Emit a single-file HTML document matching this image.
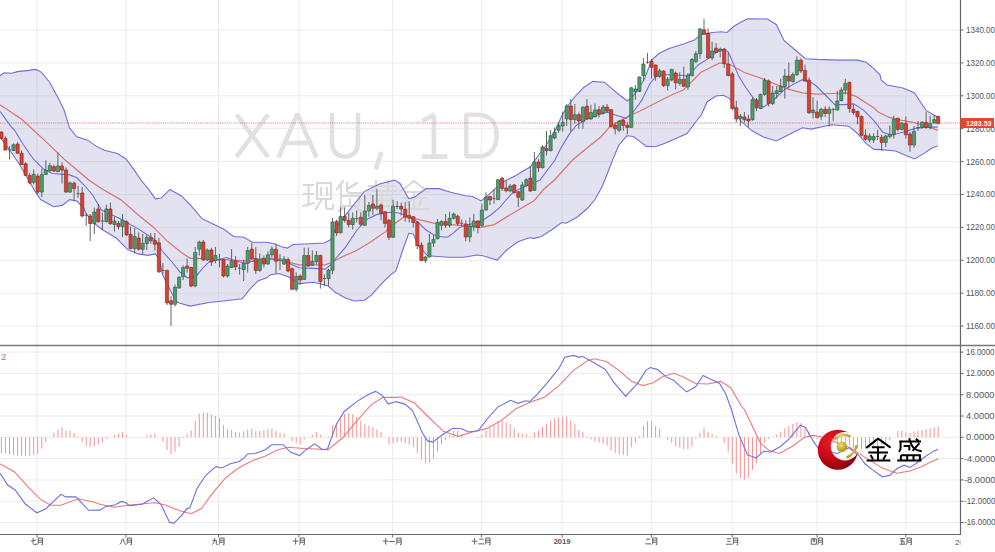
<!DOCTYPE html><html><head><meta charset="utf-8"><style>html,body{margin:0;padding:0;background:#fff;width:995px;height:552px;overflow:hidden}svg{display:block}text{font-family:"Liberation Sans",sans-serif}</style></head><body>
<svg width="995" height="552" viewBox="0 0 995 552">
<rect width="995" height="552" fill="#fff"/>
<path d="M0 30H960.5 M0 62.9H960.5 M0 95.8H960.5 M0 128.7H960.5 M0 161.6H960.5 M0 194.5H960.5 M0 227.4H960.5 M0 260.3H960.5 M0 293.2H960.5 M0 326.1H960.5 M0 352.1H960.5 M0 373.4H960.5 M0 394.7H960.5 M0 416H960.5 M0 437.3H960.5 M0 458.6H960.5 M0 479.9H960.5 M0 501.2H960.5 M0 522.5H960.5 M37 0V534 M126 0V534 M218.6 0V534 M298.9 0V534 M392.4 0V534 M481.3 0V534 M562.1 0V534 M651.4 0V534 M732.2 0V534 M817.1 0V534 M905.8 0V534" stroke="#ebebeb" stroke-width="1" fill="none"/>
<polygon points="0,76 1.4,74.5 4.3,72.8 11.6,73.3 17.4,71.6 29,70.4 35.5,69.4 40.6,71.6 49.3,81.7 58,97.7 63.8,109.3 67.4,120.9 69.6,128.1 76.8,136.8 87,140 88,140.4 95.7,145.9 104.3,150.2 117.4,153.5 126,159 134.8,170.9 140.9,180 148.1,188.7 155.4,198.8 161.2,198.1 169.9,189.4 181.4,195.9 190.1,204.6 201.7,218.4 210.4,222.8 224,229.3 233.6,236.5 243.8,237.2 252.5,242.3 267,242.3 274.2,243.8 281.4,246.7 287.2,248.1 293,244.5 310.4,243.8 324,243 330.3,240 336.3,227 349,210.6 364.2,191.6 379.5,184 394.7,180.1 400,183.5 408.7,198.7 414.5,197.2 426.1,188.6 439.1,188.6 450.7,192.2 465.2,195.8 472.5,196.5 481.2,200.9 489.9,193.6 501.4,182.8 515.9,175.5 530.4,166.8 539.1,154.5 544,148.7 555,130.7 562.3,114.8 569.6,103.2 576.8,94.5 584,87.2 592.8,81.4 604.3,82.2 610.1,87.2 618.8,94.5 627.5,101 633.3,96 639.1,87.2 644,80 651.6,60 658.8,53.5 669,48.4 683.5,44 695,39.7 700.9,34.6 712.5,32.5 721.2,31.7 727,32.5 734.2,26 747.2,18.7 767.5,19 776.2,24.5 784,40.4 795.2,50 805.4,58.7 817,59.4 838.7,60.1 857.5,60.1 866.2,62.3 874,68.8 880,74.8 881.2,80 887,85.1 903,88 914.6,93 920.3,101.7 926.1,110.4 932,114 937.7,117 938.7,117.2 937.7,146 932,148.1 923.2,153.9 914.6,159 905.9,155.4 895.7,151 881.2,149.6 874,149.4 866.2,143.6 857.5,133.5 848.8,126.2 831.4,124.8 811.2,129.1 802.5,127.7 788,134.9 776.4,141 763.3,137.1 751.7,130.6 740.1,120.4 731.9,101.7 729,98.1 723.2,95.2 716,96 707.2,101.7 701.4,114.8 695.7,122 687,133.6 675.4,138.7 663.8,143.8 655.1,146.7 646.4,146.4 639.1,140.9 633.3,136.5 626.8,135.8 618.8,145.2 616.8,150 612.5,160.1 608.1,171.7 602.3,186.2 595.1,199.3 587.8,208 577.7,216.7 566.1,223.2 561.7,222.5 551.6,230 550.1,230.7 541.4,236.5 534,238.4 529.1,237.7 517.5,242 505.9,250.7 497.2,260.1 482.8,255.8 477,255 463.9,257.2 448,257.2 427.7,255.8 419,246.4 413.2,234 408.8,233.3 403,249.3 395.8,271 390,275.4 381.6,283.6 371.4,295.2 364.2,300.3 354,301 345.4,298.1 335.2,292.3 328,285.8 313.5,282.2 299,283.6 288.8,277.1 278.7,273.5 270,274.9 267,277.8 258.3,280.7 249.6,289.4 242.3,298.8 223.5,301 209,302.5 190.1,306.1 180,303.2 176.3,301.6 170.9,291.6 162.3,274 159.7,260 155.4,253.9 148.1,255.4 138,253.9 127.8,249.6 116.2,238 101.7,229.3 94.5,223.5 85.8,213.3 84,208.3 76.8,201 69.6,199.6 62.3,205.4 53.6,206.8 40.6,199.6 34.8,190.9 29,180.7 18.8,163.3 8.7,148.8 0,137" fill="rgb(170,170,215)" fill-opacity="0.34"/>
<path d="M236.5 114.5 L268 156.8 M268 114.5 L236.5 156.8 M278.5 157.5 L297.4 114 L316.5 157.5 M285 143 H310 M332 112.8 V141 C332 152 337 156.5 345 156.5 C353 156.5 358 152 358 141 V112.8 M381.5 152 L375.5 169.5 M433.9 114.5 V156.6 M434.5 114.5 L422.5 121 M421.8 156.6 H447.5 M466.2 114.8 V156.3 H477.5 C491.5 156.3 496.6 147 496.6 135.5 C496.6 124 491.5 114.8 477.5 114.8 Z" stroke="#e1e1e1" stroke-width="4.6" stroke-linejoin="bevel" fill="none"/>
<g id="wm" stroke="#d9d9d9" stroke-width="2.2" fill="none" stroke-linecap="square"><path transform="translate(303,181)" d="M1 4H10M1 13H10M0 25L11 22M5.5 4V24 M14 2H28V18H14Z M18 7V14 M24 7V14 M19 18L13 28 M23 18V26Q23 28 26 28H30V24"/><path transform="translate(335,181)" d="M8 0L2 8M6 5V14 M12 2V9Q12 12 16 12H26 M22 2L14 7 M6 15H24V25H6Z M15 18V24 M11 25L4 30 M19 25L26 30"/><path transform="translate(367,181)" d="M2 5H28M9 0V9M21 0V9M1 10H29 M5 14H25V25H5Z M5 19.5H25 M15 10V25 M10 26L4 30 M20 26L27 30"/><path transform="translate(399,181) scale(1,1)" d="M15 0L1 11M15 0L29 11 M7 11H23 M4 17H26 M15 11V28 M8 20L10 25 M22 20L20 25 M1 28H29"/></g>
<line x1="0" y1="123" x2="960.5" y2="123" stroke="#e28080" stroke-width="1" stroke-dasharray="1.2,1"/>
<polyline points="0,76 1.4,74.5 4.3,72.8 11.6,73.3 17.4,71.6 29,70.4 35.5,69.4 40.6,71.6 49.3,81.7 58,97.7 63.8,109.3 67.4,120.9 69.6,128.1 76.8,136.8 87,140 88,140.4 95.7,145.9 104.3,150.2 117.4,153.5 126,159 134.8,170.9 140.9,180 148.1,188.7 155.4,198.8 161.2,198.1 169.9,189.4 181.4,195.9 190.1,204.6 201.7,218.4 210.4,222.8 224,229.3 233.6,236.5 243.8,237.2 252.5,242.3 267,242.3 274.2,243.8 281.4,246.7 287.2,248.1 293,244.5 310.4,243.8 324,243 330.3,240 336.3,227 349,210.6 364.2,191.6 379.5,184 394.7,180.1 400,183.5 408.7,198.7 414.5,197.2 426.1,188.6 439.1,188.6 450.7,192.2 465.2,195.8 472.5,196.5 481.2,200.9 489.9,193.6 501.4,182.8 515.9,175.5 530.4,166.8 539.1,154.5 544,148.7 555,130.7 562.3,114.8 569.6,103.2 576.8,94.5 584,87.2 592.8,81.4 604.3,82.2 610.1,87.2 618.8,94.5 627.5,101 633.3,96 639.1,87.2 644,80 651.6,60 658.8,53.5 669,48.4 683.5,44 695,39.7 700.9,34.6 712.5,32.5 721.2,31.7 727,32.5 734.2,26 747.2,18.7 767.5,19 776.2,24.5 784,40.4 795.2,50 805.4,58.7 817,59.4 838.7,60.1 857.5,60.1 866.2,62.3 874,68.8 880,74.8 881.2,80 887,85.1 903,88 914.6,93 920.3,101.7 926.1,110.4 932,114 937.7,117 938.7,117.2" fill="none" stroke="#6f6fdc" stroke-width="1.1"/>
<polyline points="0,137 8.7,148.8 18.8,163.3 29,180.7 34.8,190.9 40.6,199.6 53.6,206.8 62.3,205.4 69.6,199.6 76.8,201 84,208.3 85.8,213.3 94.5,223.5 101.7,229.3 116.2,238 127.8,249.6 138,253.9 148.1,255.4 155.4,253.9 159.7,260 162.3,274 170.9,291.6 176.3,301.6 180,303.2 190.1,306.1 209,302.5 223.5,301 242.3,298.8 249.6,289.4 258.3,280.7 267,277.8 270,274.9 278.7,273.5 288.8,277.1 299,283.6 313.5,282.2 328,285.8 335.2,292.3 345.4,298.1 354,301 364.2,300.3 371.4,295.2 381.6,283.6 390,275.4 395.8,271 403,249.3 408.8,233.3 413.2,234 419,246.4 427.7,255.8 448,257.2 463.9,257.2 477,255 482.8,255.8 497.2,260.1 505.9,250.7 517.5,242 529.1,237.7 534,238.4 541.4,236.5 550.1,230.7 551.6,230 561.7,222.5 566.1,223.2 577.7,216.7 587.8,208 595.1,199.3 602.3,186.2 608.1,171.7 612.5,160.1 616.8,150 618.8,145.2 626.8,135.8 633.3,136.5 639.1,140.9 646.4,146.4 655.1,146.7 663.8,143.8 675.4,138.7 687,133.6 695.7,122 701.4,114.8 707.2,101.7 716,96 723.2,95.2 729,98.1 731.9,101.7 740.1,120.4 751.7,130.6 763.3,137.1 776.4,141 788,134.9 802.5,127.7 811.2,129.1 831.4,124.8 848.8,126.2 857.5,133.5 866.2,143.6 874,149.4 881.2,149.6 895.7,151 905.9,155.4 914.6,159 923.2,153.9 932,148.1 937.7,146" fill="none" stroke="#6f6fdc" stroke-width="1.1"/>
<polyline points="0,104.7 21.7,119.3 43.5,139.4 65.2,160.1 87,178.5 88.7,180 101.7,188.7 120.6,199.6 138,214.8 152.5,226.4 167,240.9 181.4,252.5 190.1,258.3 196,258.3 209,259 223.5,259.7 238,260.4 252.5,261.2 267,261.9 270,258.3 284.5,261.2 299,264.8 313.5,264.8 325.1,264.8 330.9,262.6 342.5,256.8 357,250.3 371.4,241.6 385.9,231.4 390,226.8 404.5,216.7 416.1,218.8 433.5,223.2 450.9,224.6 462.5,225.4 479.9,227.5 494.3,224.6 505.9,217.4 520.4,208.7 534,200.7 544.3,188.7 554.5,180 572.5,160 587,148.1 601.4,136.5 610.1,126.4 620.3,120.6 630.4,115.5 644,109 658,101.7 672.5,94.5 683.5,90 700.9,72.3 709.6,68 719.7,62.9 730,64.5 744.5,72.5 759,77.5 773.5,83.3 788,89.1 802.5,92.8 817,94.2 831.4,93.5 846,92.8 856.1,96.4 874,108 877.8,111.7 888.7,117.2 901.7,120.4 914.8,122.6 927.8,127 937.6,130.2" fill="none" stroke="#d97575" stroke-width="1.25"/>
<polyline points="0,111.2 10.9,126.4 14.5,130 23.2,144.5 33.3,159 43.5,169.1 52.2,173.5 69.6,174.9 76.8,177.8 84,185 92.8,195.2 101.4,210 119.2,218.2 139.5,229.6 154.7,239.7 162.3,251 172.4,262.5 180,272 187.2,277.8 196,276.4 203.2,267.7 209,261.9 217.7,259.7 226.4,257.5 236.5,261.2 245.2,263.3 252.5,261.2 261.2,259 270,259 284.5,261.2 299,267.7 313.5,268.4 325.1,269.1 330.9,264.8 335.2,259 345.4,247.4 357,230 366.8,219.4 377,214.4 390,212.3 398.7,213 407.4,216 417.5,221.7 424.8,229 433.5,234.8 442.2,237 448,237 453.8,232.6 459.6,227.5 465.4,225.4 474,223.2 482.8,220.3 491.4,214.5 500.1,207.2 505.9,200 513.9,191.6 527,185.8 540,180 555,160 560.9,148.1 569.6,133.6 576.8,124.9 587,119.1 598.6,114.8 607.2,111.9 614.5,114.8 626.1,118.4 632.8,112.5 641.4,100.9 650.1,83.5 656,76.2 663.2,74.8 670.4,74.8 684,75.5 687.8,76.7 698,65 708.1,58.6 716.8,52 724,49.1 728.4,52 730,55.8 738.7,76.1 745.9,87.7 753.2,97.8 763.3,107.2 773.5,100 785,89.1 795.2,83.3 802.5,79.7 811.2,82.6 816,85.8 824.7,94.5 834.8,104.6 845,104.6 853.7,103.9 863.8,110.4 874,120.6 882.7,132.2 891.4,135 903,132.2 914.6,128.6 926.1,127.1 937.7,127.1" fill="none" stroke="#6f6fdc" stroke-width="1.1"/>
<path d="M1.4 131.4V139.1 M5.4 136.3V150.4 M9.5 146.2V159.6 M7.9 149.9h3.2 M13.5 143.4V151.1 M17.6 142V154 M21.6 150.4V165.3 M25.6 162.4V175.8 M29.7 173V184.3 M33.7 169.5V184.3 M37.7 173.7V194.2 M41.8 168.8V197 M45.8 160.3V175.1 M49.9 162.9V171.6 M53.9 164.5V172.3 M57.9 152.5V172.3 M62 162.4V183.6 M66 167.4V192.8 M70 181.5V192.8 M74.1 181.5V201.3 M78.1 185.7V197.9 M76.5 193.7h3.2 M82.2 187V217.4 M86.2 213V226 M84.6 215.3h3.2 M90.2 214V241 M94.3 207.5V234 M98.3 204V222.4 M102.4 212.5V230 M100.8 221h3.2 M106.4 204.7V222.4 M110.4 202.6V224.5 M114.5 216.7V231.5 M118.5 221V229.4 M122.5 214V237.2 M126.6 220.3V235.8 M130.6 226.6V249.2 M134.7 228V253.4 M138.7 232.3V250.6 M142.7 233.7V254 M146.8 234.4V250 M150.8 233V243.6 M154.8 233V250.6 M158.9 237.9V273 M162.9 263V274 M161.3 270.5h3.2 M167 269.7V305 M171 295.8V326 M175 284.5V306.4 M179.1 276V288.7 M183.1 265.4V280 M187.1 258.4V272.5 M191.2 266.8V287.3 M195.2 247V287.3 M199.3 240.7V255.5 M203.3 240V261 M207.3 248.5V261 M211.4 247.8V266 M215.4 247V263.3 M219.5 254V267.5 M217.9 259.8h3.2 M223.5 259V277.4 M227.5 264V277.4 M231.6 249V268.2 M235.6 256V270.4 M239.6 264V274.6 M238 268.2h3.2 M243.7 259.8V281 M247.7 247V272.5 M251.8 242.8V259.8 M255.8 247V274 M259.8 253.4V271.8 M263.9 255.5V267.5 M267.9 251.3V264.7 M271.9 246.4V257.7 M276 243.5V274 M280 254V270 M278.4 259h3.2 M284.1 256V265 M288.1 257.5V272.3 M292.1 267.4V290 M296.2 272.3V291.4 M300.2 274.4V285 M304.2 247.6V280 M308.3 247.6V266.7 M312.3 250.4V266 M316.4 251V264.5 M320.4 254.7V288.6 M324.4 274.4V286.4 M322.8 278.5h3.2 M328.5 268.8V285.7 M332.5 218V274.4 M336.6 219.6V236 M340.6 207V233.7 M344.6 207.6V222.4 M348.7 212.5V227.4 M352.7 212.5V229.5 M356.7 210.4V222.4 M355.1 218.6h3.2 M360.8 212.5V226 M364.8 195V226 M368.9 202V216.8 M372.9 195V214.7 M376.9 189.2V210.4 M381 203.4V220.3 M385 211V227.4 M389 219V240 M393.1 199.8V238 M397.1 201.2V209 M395.5 206.5h3.2 M401.2 202.7V215.4 M405.2 202V221.7 M409.2 201.2V222.4 M413.3 216V227.4 M417.3 221V249.3 M421.4 242.2V261.3 M425.4 255.6V263 M429.4 233.7V257.7 M433.5 235V247 M437.5 219V239.4 M441.5 220.3V230.2 M445.6 214V228 M449.6 211.8V227.4 M453.7 212.5V219.5 M457.7 214.7V226.2 M461.7 219.6V226.1 M460.1 223.2h3.2 M465.8 220.3V241.3 M469.8 217.4V242 M473.8 213.8V231.2 M477.9 220.3V233.3 M481.9 203.7V227 M486 192.4V210.7 M490 196V205 M494 189.5V203.7 M492.4 198.7h3.2 M498.1 179V200 M502.1 176.8V191 M506.2 180.4V192.4 M510.2 184V192.4 M514.2 184V193.8 M518.3 191V207.2 M522.3 181.8V200.8 M526.3 178.2V186.7 M530.4 166.2V191.7 M534.4 152V191 M538.5 159.2V172 M542.5 145V168.4 M546.5 131V155.6 M550.6 130V151.4 M554.6 127.4V139.4 M558.6 122.4V133 M562.7 111.8V131.6 M566.7 104V126 M570.8 99V131.6 M574.8 104V123.8 M578.8 112.5V128.8 M582.9 106V128.8 M586.9 99V119.6 M590.9 104.8V119.6 M595 103.4V117.5 M599 106.2V117.5 M603.1 104.8V114.6 M607.1 104V113.2 M611.1 109V127.4 M615.2 122.4V134.4 M619.2 120.3V132.3 M623.3 118.9V130.9 M627.3 121.7V134.4 M631.3 87.1V128.1 M635.4 85V99.8 M639.4 76.4V92 M643.4 58V80.7 M647.5 53V63.7 M645.9 62.3h3.2 M651.5 58.8V78.6 M655.6 64.4V80.7 M659.6 68.7V77.8 M663.6 70V87 M667.7 77V90.6 M671.7 68.7V81.4 M675.7 71.5V89.2 M679.8 72.2V85.6 M683.8 66.6V87 M687.9 73V89.9 M691.9 58V76.4 M695.9 51V63 M700 27.7V58.8 M704 19.2V34.8 M708.1 28.4V58.8 M712.1 41.8V60.2 M716.1 43.2V53 M720.2 47.5V57.4 M724.2 48.2V68 M728.2 52.4V76.4 M732.3 71.8V110 M736.3 100.7V122.6 M740.4 114V126 M744.4 112V122.6 M748.4 114.8V126.9 M752.5 97.2V120.5 M756.5 98V111.3 M760.5 93.7V109.2 M764.6 78V95.8 M768.6 79.5V106.4 M772.7 86V105 M776.7 86V98.6 M780.7 78.8V92.3 M784.8 69V98.6 M788.8 62.6V88.7 M792.8 72.5V82.4 M796.9 56.2V76 M800.9 58.4V73.2 M805 64.7V81.7 M809 77.4V114 M813 97.2V118.4 M817.1 100.7V118.4 M821.1 107.8V119.8 M825.2 106.4V117 M829.2 106.4V126.9 M833.2 107.8V121.2 M831.6 109.6h3.2 M837.3 90.8V110.6 M841.3 87.3V101.4 M845.3 78.8V94.4 M849.4 81.7V112.7 M853.4 104.3V114.8 M857.5 110.5V124.2 M861.5 115.7V136.6 M865.5 129.4V140.5 M869.6 133.4V142.5 M873.6 133.4V143 M877.6 130V140 M876 136.6h3.2 M881.7 134.7V151 M885.7 134.7V147 M889.8 125.5V138.6 M893.8 115.7V138.6 M897.8 117.7V131.4 M901.9 122V130.5 M905.9 116.4V138.6 M910 132V151.7 M914 126V147.7 M918 121V130.8 M916.4 127.5h3.2 M922.1 121V128.5 M926.1 111.8V128.8 M930.1 115.7V129.4 M934.2 115V123.6 M938.2 115.7V124.2" stroke="#555" stroke-width="0.9" fill="none"/>
<path d="M-0.2 132.1h3.2v6.3h-3.2z M3.8 138.4h3.2v11.7h-3.2z M16 144.1h3.2v9.1h-3.2z M20 153.2h3.2v11.3h-3.2z M24 163.8h3.2v11.6h-3.2z M28.1 175.4h3.2v7.5h-3.2z M36.1 176.1h3.2v16h-3.2z M52.3 166.7h3.2v4.2h-3.2z M60.4 166h3.2v4.2h-3.2z M64.4 169.9h3.2v22.2h-3.2z M72.5 183.2h3.2v5.4h-3.2z M80.6 193h3.2v23h-3.2z M88.6 216h3.2v7.5h-3.2z M96.7 209h3.2v12.7h-3.2z M108.8 209h3.2v14.8h-3.2z M116.9 223.5h3.2v3.1h-3.2z M125 221.7h3.2v13.3h-3.2z M129 234.4h3.2v14.1h-3.2z M137.1 238h3.2v11.2h-3.2z M149.2 237.6h3.2v3.1h-3.2z M153.2 240.5h3.2v3.8h-3.2z M157.3 242.8h3.2v29h-3.2z M165.4 270.4h3.2v32.4h-3.2z M169.4 300.7h3.2v3.6h-3.2z M185.5 266h3.2v2.2h-3.2z M189.6 267.5h3.2v18.5h-3.2z M201.7 242h3.2v17.8h-3.2z M209.8 250h3.2v12h-3.2z M221.9 259.8h3.2v16.2h-3.2z M234 261h3.2v5.8h-3.2z M250.2 249.2h3.2v9.8h-3.2z M254.2 258.4h3.2v12h-3.2z M262.3 258.4h3.2v5.6h-3.2z M274.4 249.2h3.2v12h-3.2z M286.5 259.6h3.2v11.4h-3.2z M290.5 268.8h3.2v20.5h-3.2z M298.6 276h3.2v4h-3.2z M306.7 255.4h3.2v10.6h-3.2z M318.8 255.4h3.2v26.1h-3.2z M335 221.4h3.2v11.6h-3.2z M343 216.4h3.2v3.9h-3.2z M347.1 220.3h3.2v4.2h-3.2z M359.2 217.2h3.2v7.1h-3.2z M371.3 204h3.2v4.3h-3.2z M379.4 205h3.2v8.2h-3.2z M383.4 211.8h3.2v11.6h-3.2z M387.4 220.3h3.2v17h-3.2z M399.6 206.2h3.2v2.8h-3.2z M403.6 209.3h3.2v7.5h-3.2z M407.6 215.4h3.2v2.8h-3.2z M411.7 216.8h3.2v5.6h-3.2z M415.7 222.4h3.2v23.3h-3.2z M419.8 245h3.2v15.6h-3.2z M444 221.4h3.2v3.9h-3.2z M456.1 216.2h3.2v7.2h-3.2z M464.2 224h3.2v13h-3.2z M476.3 221h3.2v6.5h-3.2z M488.4 196.6h3.2v3.4h-3.2z M500.5 178.2h3.2v10.2h-3.2z M504.6 187.9h3.2v2.8h-3.2z M512.6 185h3.2v7.4h-3.2z M516.7 191.7h3.2v5.6h-3.2z M528.8 178.2h3.2v12.8h-3.2z M536.9 162h3.2v5.7h-3.2z M544.9 148.6h3.2v2.1h-3.2z M569.2 106h3.2v13.6h-3.2z M577.2 114.7h3.2v6.3h-3.2z M585.3 106.2h3.2v12.8h-3.2z M597.4 109.7h3.2v4.3h-3.2z M605.5 107h3.2v4.1h-3.2z M609.5 109.7h3.2v17h-3.2z M613.6 125.3h3.2v3.5h-3.2z M621.7 120.3h3.2v5h-3.2z M625.7 125.3h3.2v2.1h-3.2z M649.9 61h3.2v6.3h-3.2z M654 65h3.2v11.4h-3.2z M662 71.2h3.2v14.4h-3.2z M674.1 73h3.2v9.8h-3.2z M682.2 79.3h3.2v7h-3.2z M702.4 29.8h3.2v4.2h-3.2z M706.5 33.4h3.2v24.6h-3.2z M714.5 48.2h3.2v4.2h-3.2z M722.6 49h3.2v14.7h-3.2z M726.6 64.2h3.2v11.3h-3.2z M730.7 73.9h3.2v34.6h-3.2z M734.7 107.8h3.2v11.2h-3.2z M742.8 117h3.2v2.8h-3.2z M746.8 119h3.2v2h-3.2z M754.9 100h3.2v7.8h-3.2z M767 81h3.2v22.6h-3.2z M787.2 76h3.2v5h-3.2z M799.3 60.2h3.2v10.8h-3.2z M803.4 70.4h3.2v10.6h-3.2z M807.4 80.2h3.2v32.5h-3.2z M815.5 112h3.2v5.7h-3.2z M823.6 109.2h3.2v4.2h-3.2z M847.8 82.4h3.2v26.1h-3.2z M851.8 109.2h3.2v3.3h-3.2z M855.9 111.5h3.2v5.2h-3.2z M859.9 116.4h3.2v18.9h-3.2z M863.9 135.3h3.2v3.9h-3.2z M880.1 137.3h3.2v5.2h-3.2z M896.2 118.3h3.2v11.1h-3.2z M904.3 123.6h3.2v11.1h-3.2z M908.4 134h3.2v11.1h-3.2z M924.5 122.3h3.2v5.2h-3.2z M936.6 116.4h3.2v7.2h-3.2z" fill="#d9412e" stroke="#7a2a22" stroke-width="0.6"/>
<path d="M11.9 144.8h3.2v5.6h-3.2z M32.1 174.4h3.2v7.8h-3.2z M40.2 174.4h3.2v17.7h-3.2z M44.2 170.2h3.2v4.2h-3.2z M48.3 165.7h3.2v5.2h-3.2z M56.3 166h3.2v5.6h-3.2z M68.4 182.9h3.2v9.2h-3.2z M92.7 212h3.2v11.5h-3.2z M104.8 209h3.2v12.7h-3.2z M112.9 221h3.2v3.5h-3.2z M120.9 220h3.2v6.6h-3.2z M133.1 236.5h3.2v12h-3.2z M141.1 243.3h3.2v5.9h-3.2z M145.2 237.6h3.2v6h-3.2z M173.4 287.3h3.2v17h-3.2z M177.5 277.4h3.2v10.6h-3.2z M181.5 267.5h3.2v9.2h-3.2z M193.6 252.4h3.2v33.6h-3.2z M197.7 242h3.2v7.2h-3.2z M205.7 250h3.2v9.8h-3.2z M213.8 255.5h3.2v5h-3.2z M225.9 266h3.2v10h-3.2z M230 261h3.2v6.5h-3.2z M242.1 263.3h3.2v6.4h-3.2z M246.1 250.6h3.2v12.7h-3.2z M258.2 259h3.2v11.4h-3.2z M266.3 254.8h3.2v9.2h-3.2z M270.3 249.2h3.2v5.6h-3.2z M282.5 259h3.2v5h-3.2z M294.6 276.6h3.2v12.7h-3.2z M302.6 255.4h3.2v24h-3.2z M310.7 261.4h3.2v3.9h-3.2z M314.8 255.4h3.2v6.3h-3.2z M326.9 270h3.2v8.7h-3.2z M330.9 222h3.2v48.2h-3.2z M339 216.4h3.2v16.3h-3.2z M351.1 218.2h3.2v6.3h-3.2z M363.2 211h3.2v14.3h-3.2z M367.3 205.5h3.2v5.5h-3.2z M375.3 206.2h3.2v2.1h-3.2z M391.5 206.2h3.2v31.1h-3.2z M423.8 257h3.2v3.6h-3.2z M427.8 243h3.2v14h-3.2z M431.9 239.4h3.2v3.6h-3.2z M435.9 222.4h3.2v16.3h-3.2z M439.9 221.4h3.2v3.9h-3.2z M448 218.2h3.2v7.1h-3.2z M452.1 214h3.2v4.2h-3.2z M468.2 226h3.2v11h-3.2z M472.2 221h3.2v5.8h-3.2z M480.3 210.1h3.2v15.3h-3.2z M484.4 197h3.2v13h-3.2z M496.5 179.7h3.2v20h-3.2z M508.6 186h3.2v5h-3.2z M520.7 185h3.2v15.1h-3.2z M524.7 179.7h3.2v5.6h-3.2z M532.8 162h3.2v28.3h-3.2z M540.9 147h3.2v20.7h-3.2z M549 135.8h3.2v14.9h-3.2z M553 132.3h3.2v5.7h-3.2z M557 125.3h3.2v4.9h-3.2z M561.1 122.4h3.2v3.6h-3.2z M565.1 106h3.2v13h-3.2z M573.2 114.7h3.2v4.9h-3.2z M581.3 107.3h3.2v14.4h-3.2z M589.3 112.5h3.2v6.5h-3.2z M593.4 110h3.2v6.8h-3.2z M601.5 107h3.2v6.2h-3.2z M617.6 121h3.2v9.2h-3.2z M629.7 87.8h3.2v39.6h-3.2z M633.8 89h3.2v3h-3.2z M637.8 77h3.2v14.3h-3.2z M641.8 64h3.2v11.7h-3.2z M658 70.8h3.2v5.6h-3.2z M666.1 79.3h3.2v6.3h-3.2z M670.1 69.4h3.2v10.6h-3.2z M678.2 79.3h3.2v4.2h-3.2z M686.3 75h3.2v12h-3.2z M690.3 59.5h3.2v16.2h-3.2z M694.3 53.8h3.2v7.8h-3.2z M698.4 29h3.2v24.8h-3.2z M710.5 51h3.2v7h-3.2z M718.6 49h3.2v2h-3.2z M738.8 116.3h3.2v2.1h-3.2z M750.9 99.7h3.2v20.1h-3.2z M758.9 94.4h3.2v14.1h-3.2z M763 80.2h3.2v14.2h-3.2z M771.1 93h3.2v10.6h-3.2z M775.1 90.8h3.2v2.9h-3.2z M779.1 86h3.2v5.5h-3.2z M783.2 76h3.2v10.6h-3.2z M791.2 74.6h3.2v7.1h-3.2z M795.3 60.2h3.2v14.4h-3.2z M811.4 110h3.2v2.7h-3.2z M819.5 109.2h3.2v7.1h-3.2z M827.6 109.2h3.2v4.2h-3.2z M835.7 101h3.2v9h-3.2z M839.7 90.1h3.2v10.6h-3.2z M843.7 83.4h3.2v6.7h-3.2z M868 136h3.2v4h-3.2z M872 136.6h3.2v3.4h-3.2z M884.1 136h3.2v6.5h-3.2z M888.2 134.4h3.2v2.2h-3.2z M892.2 119.2h3.2v15.5h-3.2z M900.3 123.2h3.2v6.2h-3.2z M912.4 131.4h3.2v13.7h-3.2z M920.5 122.3h3.2v5.2h-3.2z M928.5 123.6h3.2v3.9h-3.2z M932.6 119.6h3.2v3.3h-3.2z" fill="#4e9a6c" stroke="#2e5a3e" stroke-width="0.6"/>
<path d="M1.4 437.3V453.2 M5.4 437.3V453.5 M9.5 437.3V454.6 M13.5 437.3V455.3 M17.6 437.3V455.4 M21.6 437.3V455.8 M25.6 437.3V455.8 M29.7 437.3V456.2 M33.7 437.3V455.2 M37.7 437.3V453.9 M41.8 437.3V448.6 M45.8 437.3V442 M53.9 437.3V432.5 M57.9 437.3V429.5 M62 437.3V427.1 M66 437.3V430.4 M70 437.3V430.8 M74.1 437.3V433 M78.1 437.3V436.6 M82.2 437.3V441.8 M86.2 437.3V445.9 M90.2 437.3V446.9 M94.3 437.3V446.1 M98.3 437.3V444.5 M102.4 437.3V442.1 M106.4 437.3V438.7 M114.5 437.3V435.1 M118.5 437.3V433.6 M122.5 437.3V432.2 M126.6 437.3V434.9 M146.8 437.3V435.7 M150.8 437.3V434.6 M154.8 437.3V433.5 M162.9 437.3V441.6 M167 437.3V450.2 M171 437.3V454.1 M175 437.3V451.6 M179.1 437.3V446.7 M183.1 437.3V438.3 M187.1 437.3V433.8 M191.2 437.3V430.7 M195.2 437.3V421 M199.3 437.3V413.7 M203.3 437.3V412.9 M207.3 437.3V412.6 M211.4 437.3V414.7 M215.4 437.3V416 M219.5 437.3V418 M223.5 437.3V425.4 M227.5 437.3V429.1 M231.6 437.3V430.1 M235.6 437.3V431.8 M239.6 437.3V432.5 M243.7 437.3V431.5 M247.7 437.3V429.5 M251.8 437.3V428.9 M255.8 437.3V431.2 M259.8 437.3V431 M263.9 437.3V430.1 M267.9 437.3V428.9 M271.9 437.3V428.7 M276 437.3V430.9 M280 437.3V432.8 M284.1 437.3V433.7 M292.1 437.3V441.1 M296.2 437.3V443.1 M300.2 437.3V444.2 M304.2 437.3V439.4 M312.3 437.3V435 M316.4 437.3V432.2 M320.4 437.3V434.7 M328.5 437.3V436.5 M332.5 437.3V425.5 M336.6 437.3V422.9 M340.6 437.3V419.1 M344.6 437.3V414.2 M348.7 437.3V413 M352.7 437.3V414.3 M356.7 437.3V416.9 M360.8 437.3V420.7 M364.8 437.3V424.4 M368.9 437.3V425.6 M372.9 437.3V427 M376.9 437.3V429.4 M381 437.3V432 M389 437.3V444.6 M393.1 437.3V442.9 M397.1 437.3V442.1 M401.2 437.3V442.1 M405.2 437.3V443.4 M409.2 437.3V444.6 M413.3 437.3V447.1 M417.3 437.3V453.2 M421.4 437.3V459.7 M425.4 437.3V463.5 M429.4 437.3V462.5 M433.5 437.3V458.8 M437.5 437.3V451.5 M441.5 437.3V443.9 M445.6 437.3V439.9 M449.6 437.3V434.9 M453.7 437.3V431 M457.7 437.3V430.7 M461.7 437.3V434.2 M477.9 437.3V438.2 M481.9 437.3V434.4 M486 437.3V430.7 M490 437.3V428.1 M494 437.3V425 M498.1 437.3V420.7 M502.1 437.3V420.3 M506.2 437.3V422.5 M510.2 437.3V424.3 M514.2 437.3V428.3 M518.3 437.3V432.7 M522.3 437.3V433.7 M526.3 437.3V434.3 M530.4 437.3V436.5 M534.4 437.3V432.3 M538.5 437.3V430.6 M542.5 437.3V427 M546.5 437.3V424.3 M550.6 437.3V420.6 M554.6 437.3V418.3 M558.6 437.3V417.3 M562.7 437.3V417.1 M566.7 437.3V416.5 M570.8 437.3V420.2 M574.8 437.3V424.4 M578.8 437.3V430.1 M582.9 437.3V431.8 M586.9 437.3V436.6 M590.9 437.3V439.5 M595 437.3V441.4 M599 437.3V442.7 M603.1 437.3V444 M607.1 437.3V445.6 M611.1 437.3V450.4 M615.2 437.3V452.9 M619.2 437.3V454.6 M623.3 437.3V455.3 M627.3 437.3V455.6 M631.3 437.3V447.4 M635.4 437.3V442.3 M639.4 437.3V435.8 M643.4 437.3V425.9 M647.5 437.3V421 M651.5 437.3V421.1 M655.6 437.3V426.1 M659.6 437.3V428.9 M667.7 437.3V440 M671.7 437.3V442.6 M675.7 437.3V446.4 M679.8 437.3V447.7 M683.8 437.3V449 M687.9 437.3V449 M691.9 437.3V446.5 M695.9 437.3V438.9 M700 437.3V432.7 M704 437.3V427.5 M708.1 437.3V431.8 M712.1 437.3V434.1 M716.1 437.3V436.2 M724.2 437.3V443.1 M728.2 437.3V451.7 M732.3 437.3V463.5 M736.3 437.3V473.6 M740.4 437.3V478.1 M744.4 437.3V479.6 M748.4 437.3V477.8 M752.5 437.3V469.7 M756.5 437.3V462.9 M760.5 437.3V453.6 M764.6 437.3V442.9 M768.6 437.3V439 M776.7 437.3V434.9 M780.7 437.3V431.6 M784.8 437.3V428.5 M788.8 437.3V426 M792.8 437.3V424 M796.9 437.3V422.1 M800.9 437.3V423.1 M805 437.3V426.6 M809 437.3V431.6 M813 437.3V436.4 M817.1 437.3V439.2 M821.1 437.3V441.3 M825.2 437.3V442.3 M829.2 437.3V443.3 M833.2 437.3V443.5 M837.3 437.3V443.5 M841.3 437.3V443.5 M845.3 437.3V443.6 M849.4 437.3V445.2 M853.4 437.3V447.8 M857.5 437.3V448.6 M861.5 437.3V449.2 M865.5 437.3V448.7 M869.6 437.3V448 M873.6 437.3V447.8 M877.6 437.3V447 M881.7 437.3V444.9 M885.7 437.3V442.8 M889.8 437.3V440.3 M897.8 437.3V431.1 M901.9 437.3V430.5 M905.9 437.3V432.5 M910 437.3V432.8 M914 437.3V431.6 M918 437.3V430.9 M922.1 437.3V429.9 M926.1 437.3V429.2 M930.1 437.3V428.5 M934.2 437.3V427.7 M938.2 437.3V426.9" stroke="#f09494" stroke-width="1" fill="none"/>
<polyline points="0,464 1.4,464.6 14.5,471.9 29,487.8 40.6,499.4 50.7,505.2 60.9,505.2 78.3,498.7 94.2,502.3 100,504.3 114.5,507.2 129,505 155.1,502.8 165.2,505 179.7,510.8 191.3,513.7 201.4,508.6 213,492.7 224.6,478.9 236.2,469.5 244,465.1 252.7,460.6 265.4,456 278,449.7 288.2,447.2 303.4,448.5 316,449 328,449.6 342.5,438 357,420.6 371.4,404.6 383,397.4 397.5,397.4 400,396.5 414.5,403 429,417.5 443.5,431.3 458,436.4 472.5,432 487,428.4 501.4,420.4 515.9,408.8 530,402.2 544.5,397.2 559,385.6 573.5,370.4 588,360.2 595.2,358.8 606.8,361.7 619.9,371.1 631.4,381.2 643,385.6 653.2,382.7 663.3,376.2 674,373.3 682.8,376.7 695.5,383.5 708,384 720.7,381.4 730.8,387.7 741,405.5 744.6,410 760.6,443.3 769.3,450.6 779.4,453.5 792.5,446.2 804.1,437.5 812.8,435.4 821.4,436.8 850.4,447.7 859.1,453.6 870.7,460.9 882.3,468.1 896.8,473.2 909.9,471 921.4,466.7 930.1,462.3 938.1,458.7" fill="none" stroke="#e97a7a" stroke-width="1.1"/>
<polyline points="0,473 7.6,485 15.2,490 25.4,504 36.8,512.8 45.6,509 60.9,494.3 65.9,496.9 76,496.9 88.7,510.3 100,510.1 105.8,506.4 114.5,505 121.7,501.4 126.1,502.8 129,505.7 136.2,505 142,504.3 153.6,497.8 160.9,504.3 169.6,522.4 173.9,523.1 181.2,515.9 187,508.6 189.9,507.9 197.1,488.3 205.8,475.3 215.9,466.6 221.7,468 230.4,463.7 239.1,461.5 244,457.9 247.6,454 255.2,453.5 265.4,449.7 271.7,444.7 283.1,444.7 290.7,452.3 299.6,455.6 305.9,449.7 314.8,443.9 322.4,449.7 327.5,449 336.3,424.4 344,411.7 356.6,401.6 369.3,394 375.6,391.4 382,395.2 388.3,404.1 395.9,401.6 404.8,404.1 412.4,410.4 422.6,433.2 427.6,440.9 432.7,442.1 442.8,434.5 453,428.2 461.9,428.7 468.2,432 478.3,430.7 487.6,418.5 497.7,407.1 510.4,400.3 518,403.3 525.6,400.8 530,401.5 537.2,394.3 547.4,382.7 559,368.2 564.8,357.3 573.5,355.4 579.3,357.3 582.2,356.3 590.9,361 599.6,366 605.4,369.6 614.1,382.7 625.7,396.4 631.4,389.9 637.2,384.1 645.9,370.4 650.3,367.5 657.5,369.6 666.2,376.9 674,380.5 675.2,381.8 686.6,391.9 695.5,386.8 703.1,375.4 710.7,379.2 719.6,383.5 725.8,394 731.6,410 738.8,434.6 747.5,454.9 756.2,457.8 763.5,451.3 770.7,452 780.9,446.2 789.6,438.3 800.4,425.2 805.5,427.4 812.8,440.4 818.6,449.1 837.4,453.5 846.1,449.1 849,447.8 859.1,455.8 864.9,463.8 872.2,469.6 882.3,476.8 889.6,475.4 896.8,468.8 904,465.2 909.9,467.4 915.7,463.8 924.3,457.2 933,451.4 938.1,449.3" fill="none" stroke="#6f6fdc" stroke-width="1.1"/>
<path d="M960.5 0V534.5 M0 534.5H961.0" stroke="#666" stroke-width="1.2" fill="none"/>
<path d="M0 345.5H995" stroke="#777" stroke-width="1.4" fill="none"/>
<path d="M960.5 -2.9h3 M960.5 30h3 M960.5 62.9h3 M960.5 95.8h3 M960.5 128.7h3 M960.5 161.6h3 M960.5 194.5h3 M960.5 227.4h3 M960.5 260.3h3 M960.5 293.2h3 M960.5 326.1h3 M960.5 352.1h3 M960.5 373.4h3 M960.5 394.7h3 M960.5 416h3 M960.5 437.3h3 M960.5 458.6h3 M960.5 479.9h3 M960.5 501.2h3 M960.5 522.5h3 M37 534.5v3 M126 534.5v3 M218.6 534.5v3 M298.9 534.5v3 M392.4 534.5v3 M481.3 534.5v3 M562.1 534.5v3 M651.4 534.5v3 M732.2 534.5v3 M817.1 534.5v3 M905.8 534.5v3" stroke="#666" stroke-width="1" fill="none"/>
<text x="966" y="0" font-size="8.8" fill="#555" textLength="29" lengthAdjust="spacingAndGlyphs">1360.00</text><text x="966" y="32.9" font-size="8.8" fill="#555" textLength="29" lengthAdjust="spacingAndGlyphs">1340.00</text><text x="966" y="65.8" font-size="8.8" fill="#555" textLength="29" lengthAdjust="spacingAndGlyphs">1320.00</text><text x="966" y="98.7" font-size="8.8" fill="#555" textLength="29" lengthAdjust="spacingAndGlyphs">1300.00</text><text x="966" y="131.6" font-size="8.8" fill="#555" textLength="29" lengthAdjust="spacingAndGlyphs">1280.00</text><text x="966" y="164.5" font-size="8.8" fill="#555" textLength="29" lengthAdjust="spacingAndGlyphs">1260.00</text><text x="966" y="197.4" font-size="8.8" fill="#555" textLength="29" lengthAdjust="spacingAndGlyphs">1240.00</text><text x="966" y="230.3" font-size="8.8" fill="#555" textLength="29" lengthAdjust="spacingAndGlyphs">1220.00</text><text x="966" y="263.2" font-size="8.8" fill="#555" textLength="29" lengthAdjust="spacingAndGlyphs">1200.00</text><text x="966" y="296.1" font-size="8.8" fill="#555" textLength="29" lengthAdjust="spacingAndGlyphs">1180.00</text><text x="966" y="329" font-size="8.8" fill="#555" textLength="29" lengthAdjust="spacingAndGlyphs">1160.00</text><text x="966" y="355" font-size="8.8" fill="#555" textLength="28.5" lengthAdjust="spacingAndGlyphs">16.0000</text><text x="966" y="376.3" font-size="8.8" fill="#555" textLength="28.5" lengthAdjust="spacingAndGlyphs">12.0000</text><text x="966" y="397.6" font-size="8.8" fill="#555" textLength="28.5" lengthAdjust="spacingAndGlyphs">8.0000</text><text x="966" y="418.9" font-size="8.8" fill="#555" textLength="28.5" lengthAdjust="spacingAndGlyphs">4.0000</text><text x="966" y="440.2" font-size="8.8" fill="#555" textLength="28.5" lengthAdjust="spacingAndGlyphs">0.0000</text><text x="964" y="461.5" font-size="8.8" fill="#555" textLength="31.5" lengthAdjust="spacingAndGlyphs">-4.0000</text><text x="964" y="482.8" font-size="8.8" fill="#555" textLength="31.5" lengthAdjust="spacingAndGlyphs">-8.0000</text><text x="964" y="504.1" font-size="8.8" fill="#555" textLength="31.5" lengthAdjust="spacingAndGlyphs">-12.0000</text><text x="964" y="525.4" font-size="8.8" fill="#555" textLength="31.5" lengthAdjust="spacingAndGlyphs">-16.0000</text>
<rect x="960.5" y="118" width="33.5" height="10" fill="#e5482c"/>
<text x="966" y="126" font-size="8" font-weight="bold" fill="#fff" textLength="25.5" lengthAdjust="spacingAndGlyphs">1283.53</text>
<text x="1.2" y="359.6" font-size="9" fill="#d45f78">2</text>
<path transform="translate(30.8,538) scale(0.78)" d="M0.0 4L7.0 2.5 M3.0 0V7Q3.0 8.5 5.0 8.5H7.0V7 M9.5 0V6Q9.5 8 8.5 8.5 M9.5 0H15.0V8.5H13.5 M9.5 2.8H15.0 M9.5 5.4H15.0" stroke="#555" stroke-width="1.15" fill="none"/>
<path transform="translate(119.8,538) scale(0.78)" d="M3.0 1Q3.0 6 0.0 8.5 M4.5 1Q5.0 6 7.5 8.5 M9.5 0V6Q9.5 8 8.5 8.5 M9.5 0H15.0V8.5H13.5 M9.5 2.8H15.0 M9.5 5.4H15.0" stroke="#555" stroke-width="1.15" fill="none"/>
<path transform="translate(212.4,538) scale(0.78)" d="M0.0 3H5.0V7.5Q5.0 8.5 7.0 8.5 M3.0 0Q3.0 6 0.0 8.5 M9.5 0V6Q9.5 8 8.5 8.5 M9.5 0H15.0V8.5H13.5 M9.5 2.8H15.0 M9.5 5.4H15.0" stroke="#555" stroke-width="1.15" fill="none"/>
<path transform="translate(292.7,538) scale(0.78)" d="M0.0 4H7.5 M3.75 0V8.5 M9.5 0V6Q9.5 8 8.5 8.5 M9.5 0H15.0V8.5H13.5 M9.5 2.8H15.0 M9.5 5.4H15.0" stroke="#555" stroke-width="1.15" fill="none"/>
<path transform="translate(382.8,538) scale(0.78)" d="M0.0 4H7.5 M3.75 0V8.5 M8.5 4.5H15.5 M18.0 0V6Q18.0 8 17.0 8.5 M18.0 0H23.5V8.5H22.0 M18.0 2.8H23.5 M18.0 5.4H23.5" stroke="#555" stroke-width="1.15" fill="none"/>
<path transform="translate(471.7,538) scale(0.78)" d="M0.0 4H7.5 M3.75 0V8.5 M9.5 1.5H15.0 M8.5 7.5H16.0 M18.0 0V6Q18.0 8 17.0 8.5 M18.0 0H23.5V8.5H22.0 M18.0 2.8H23.5 M18.0 5.4H23.5" stroke="#555" stroke-width="1.15" fill="none"/>
<path transform="translate(645.2,538) scale(0.78)" d="M1.0 1.5H6.5 M0.0 7.5H7.5 M9.5 0V6Q9.5 8 8.5 8.5 M9.5 0H15.0V8.5H13.5 M9.5 2.8H15.0 M9.5 5.4H15.0" stroke="#555" stroke-width="1.15" fill="none"/>
<path transform="translate(726,538) scale(0.78)" d="M1.0 1H6.5 M1.5 4.3H6.0 M0.0 8H7.5 M9.5 0V6Q9.5 8 8.5 8.5 M9.5 0H15.0V8.5H13.5 M9.5 2.8H15.0 M9.5 5.4H15.0" stroke="#555" stroke-width="1.15" fill="none"/>
<path transform="translate(810.9,538) scale(0.78)" d="M0.5 1H7.0V8H0.5Z M3.0 1V5 M4.5 1V5 M9.5 0V6Q9.5 8 8.5 8.5 M9.5 0H15.0V8.5H13.5 M9.5 2.8H15.0 M9.5 5.4H15.0" stroke="#555" stroke-width="1.15" fill="none"/>
<path transform="translate(899.6,538) scale(0.78)" d="M0.5 0.8H7.0 M3.2 0.8L2.5 8 M1.0 4H5.8V8 M0.0 8H7.5 M9.5 0V6Q9.5 8 8.5 8.5 M9.5 0H15.0V8.5H13.5 M9.5 2.8H15.0 M9.5 5.4H15.0" stroke="#555" stroke-width="1.15" fill="none"/>
<text x="562.1" y="544.2" font-size="7.6" font-weight="bold" fill="#555" text-anchor="middle">2019</text>
<svg x="950" y="535" width="10.5" height="17"><text x="5" y="9.5" font-size="8" fill="#555">20</text></svg>
<defs><radialGradient id="rg" cx="0.35" cy="0.3" r="0.8"><stop offset="0" stop-color="#ec1c28"/><stop offset="0.55" stop-color="#c20816"/><stop offset="1" stop-color="#7e0010"/></radialGradient>
<radialGradient id="gg" cx="0.4" cy="0.35" r="0.7"><stop offset="0" stop-color="#f2e070"/><stop offset="1" stop-color="#a88a10"/></radialGradient>
<mask id="cm"><rect x="800" y="420" width="80" height="60" fill="#fff"/><circle cx="845" cy="446.2" r="14.2" fill="#000"/></mask></defs>
<circle cx="837.8" cy="449.8" r="20" fill="url(#rg)" mask="url(#cm)"/>
<circle cx="841.8" cy="446.7" r="5.3" fill="url(#gg)"/>
<path d="M833.5 438.5 Q841 430.5 851 435.5 L850 437.5 Q842 434.5 835 440Z" fill="url(#gg)"/>
<path d="M847.5 458.5 Q858 453 857 445 L855 445.5 Q854.5 452 846 456.5Z" fill="url(#gg)"/>
<g stroke="#000" stroke-width="2" fill="none" stroke-linecap="butt">
<path d="M878 438.6L866.3 447.9M878 438.6L890.6 447.6 M871.8 447.3H884.5 M868.3 452.5H888 M878 447.3V460.5 M870.6 455L873 459.3 M886 454.8L883.3 459.3 M866.6 460.5H890.4"/>
<path d="M899.2 441.6H921 M900.6 441.6V447.5Q900.6 450 899 451.8 M903.6 446H909.3V450.5 M909.2 438.3Q911 446 914.5 448.8Q917.5 451 921.8 451.3 M919.4 443.2L912.6 450.8 M915.8 438.8L918.5 440.8 M900.9 455.2H919.9V460.5 M900.9 455.2V460.5 M907.2 455.2V460.5 M913.5 455.2V460.5 M897.2 460.5H921.5"/>
</g>
</svg></body></html>
